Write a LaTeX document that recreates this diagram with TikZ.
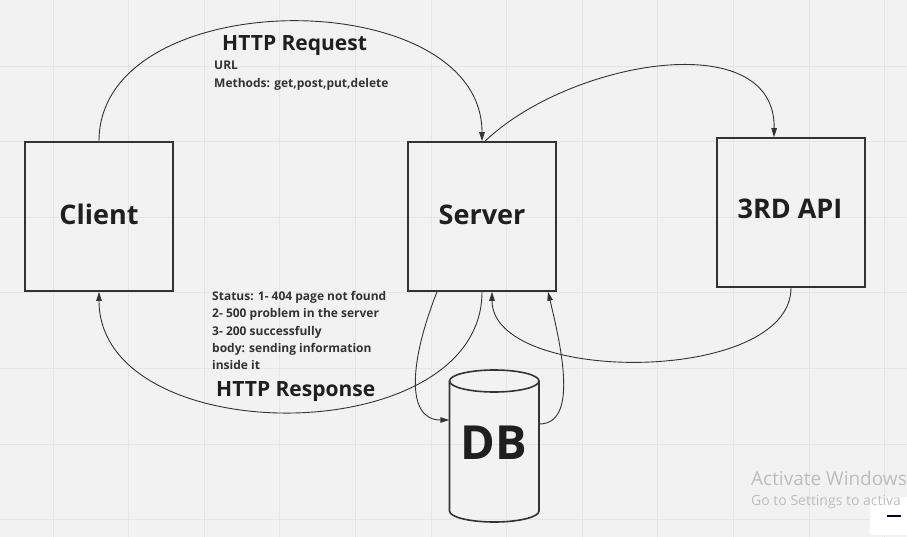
\documentclass[tikz,border=0pt]{standalone}
\usepackage{fontspec}
\setmainfont{Open Sans}
\usetikzlibrary{arrows.meta}
\definecolor{bg}{HTML}{F2F2F2}
\definecolor{gridc}{HTML}{E6E6E6}
\definecolor{ink}{HTML}{333333}
\definecolor{txt}{HTML}{1F1F1F}
\definecolor{winc}{HTML}{BDBDBD}
\definecolor{navy}{HTML}{050038}
\begin{document}
\begin{tikzpicture}[x=1pt,y=-1pt,
  box/.style={draw=ink, line width=1.6pt, minimum width=148pt, minimum height=149pt, inner sep=0pt},
  biglbl/.style={font=\bfseries\fontsize{27}{30}\selectfont, text=txt, anchor=base, inner sep=0pt},
  headlbl/.style={font=\bfseries\fontsize{21}{24}\selectfont, text=txt, anchor=base west, inner sep=0pt},
  smalllbl/.style={font=\bfseries\fontsize{12}{14}\selectfont, text=ink, anchor=base west, inner sep=0pt},
  link/.style={draw=ink, line width=0.9pt, -{Triangle[length=9pt,width=5.5pt]}},
  winlbl/.style={text=winc, anchor=base west, inner sep=0pt}]
\useasboundingbox (0,0) rectangle (907,537);
\clip (0,0) rectangle (907,537);
\fill[bg] (0,0) rectangle (907,537);
\foreach \i in {0,...,11} \draw[gridc, line width=0.8pt] ({53+75.6*\i},0) -- ({53+75.6*\i},537);
\foreach \j in {0,...,6} \draw[gridc, line width=0.8pt] (0,{66+75.6*\j}) -- (907,{66+75.6*\j});

% boxes
\node[box] (client) at (99,216.5) {};
\node[box] (server) at (482,216.5) {};
\node[box] (api) at (791,212.5) {};
\node[inner sep=0pt, minimum width=89.5pt, minimum height=152pt] (db) at (494.25,446) {};
\draw[ink, line width=1.6pt] (449.5,381) -- (449.5,511) arc[start angle=180,end angle=0,x radius=44.75,y radius=11] -- (539,381);
\draw[ink, line width=1.6pt] (494.25,381) ellipse [x radius=44.75, y radius=11];

\node[biglbl] (clientlbl) at (99,225) {Client};
\node[biglbl] (serverlbl) at (482,225) {Server};
\node[biglbl] (apilbl) at (790,219) {3RD API};
\node[biglbl, font=\bfseries\fontsize{47}{50}\selectfont] (dblbl) at (494,459) {DB};

% texts
\node[headlbl] (req) at (222,51) {HTTP Request};
\node[smalllbl] (url) at (214,70) {URL};
\node[smalllbl] (meth) at (214,88) {Methods: get,post,put,delete};
\node[smalllbl] (st1) at (212,300) {Status: 1- 404 page not found};
\node[smalllbl] (st2) at (212,317.5) {2- 500 problem in the server};
\node[smalllbl] (st3) at (212,335) {3- 200 successfully};
\node[smalllbl] (st4) at (212,352) {body: sending information};
\node[smalllbl] (st5) at (212,369) {inside it};
\node[headlbl] (resp) at (216,396) {HTTP Response};

% connectors
\draw[link] (client.north) .. controls (99,-18) and (482,-18) .. (server.north);
\draw[link] ([xshift=3pt]server.north) .. controls (570,60) and (776,25) .. ([xshift=-17pt]api.north);
\draw[link] (server.south) .. controls (482,452) and (99,452) .. (client.south);
\draw[link] (api.south) .. controls (791,385) and (492,385) .. ([xshift=10pt]server.south);
\draw[link] ([yshift=22pt]db.east) .. controls (578,424) and (562,350) .. ([xshift=66pt]server.south);
\draw[link] ([xshift=-45pt]server.south) .. controls (410,360) and (405,420) .. ([yshift=26pt]db.west);

% windows watermark
\node[winlbl, font=\fontsize{19}{22}\selectfont] (act1) at (751,485) {Activate Windows};
\fill[white, rounded corners=3pt] (870,497) rectangle (912,535);
\node[winlbl, font=\fontsize{14}{16}\selectfont] (act2) at (751,505) {Go to Settings to activa};
\draw[navy, line width=2pt] (887,516) -- (901,516);
\end{tikzpicture}
\end{document}
